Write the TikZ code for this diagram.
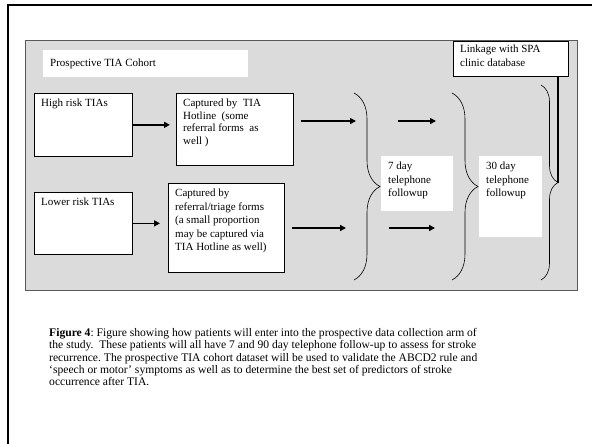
\documentclass[tikz,border=0pt]{standalone}
\usepackage{fontspec}
\setmainfont{Liberation Serif}
\usetikzlibrary{arrows.meta,decorations.pathreplacing}

\begin{document}
\frenchspacing
\begin{tikzpicture}[x=1pt,y=-1pt,
    box/.style={draw, line width=0.7pt, fill=white, anchor=north west, inner sep=0pt},
    plain/.style={fill=white, anchor=north west, inner sep=0pt},
    boxtext/.style={anchor=north west, align=left, inner xsep=7pt, inner ysep=6pt,
        font=\fontsize{11}{13.5}\selectfont},
    arr/.style={line width=1.4pt, -{Triangle[length=6pt,width=6pt]}},
    brc/.style={decorate, line width=0.6pt, decoration={brace, amplitude=#1}}]

    \useasboundingbox (0,0) rectangle (592,444);

    % outer frame
    \draw[line width=2.2pt] (8,444) -- (8,5) -- (592,5);

    % grey panel
    \draw[fill=black!14, draw=black!65, line width=0.9pt] (25,40) rectangle (577,290);

    \node[plain, minimum width=205pt, minimum height=27pt,
        label={[boxtext, anchor=west]west:Prospective TIA Cohort}] (cohort) at (43,50) {};

    \node[box, minimum width=98pt, minimum height=63pt,
        label={[boxtext]north west:High risk TIAs}] (high) at (34,93) {};
    \node[box, minimum width=117pt, minimum height=72pt,
        label={[boxtext, font=\fontsize{11}{12.4}\selectfont]north west:{Captured by\ \ TIA\\Hotline\ \ (some\\referral forms\ \ as\\well )}}] (hotline) at (176,93) {};

    \node[box, minimum width=98pt, minimum height=62pt,
        label={[boxtext]north west:Lower risk TIAs}] (low) at (34,192) {};
    \node[box, minimum width=116pt, minimum height=89pt,
        label={[boxtext]north west:{Captured by\\referral/triage forms\\(a small proportion\\may be captured via\\TIA Hotline as well)}}] (referral) at (168,183) {};

    \node[plain, minimum width=72pt, minimum height=55pt,
        label={[boxtext]north west:{7 day\\telephone\\followup}}] (seven) at (381,156) {};
    \node[plain, minimum width=63pt, minimum height=81pt,
        label={[boxtext]north west:{30 day\\telephone\\followup}}] (thirty) at (479,156) {};

    \node[box, minimum width=115pt, minimum height=35pt,
        label={[boxtext, inner ysep=4pt]north west:{Linkage with SPA\\clinic database}}] (link) at (453,41) {};

    % arrows
    \draw[arr, shorten >=6pt] (high.east) -- (high.east -| hotline.west);
    \draw[arr, shorten >=8pt] (low.east) -- (low.east -| referral.west);

    \coordinate (u1) at (301,121);
    \coordinate (u2) at (356,121);
    \coordinate (u3) at (398,121);
    \coordinate (u4) at (436,121);
    \coordinate (l1) at (292,228);
    \coordinate (l2) at (346,228);
    \coordinate (l3) at (389,228);
    \coordinate (l4) at (435,228);
    \draw[arr] (u1) -- (u2);
    \draw[arr] (u3) -- (u4);
    \draw[arr] (l1) -- (l2);
    \draw[arr] (l3) -- (l4);

    % braces
    \draw[brc=26pt] (354,93) -- (354,280);
    \draw[brc=26pt] (452,93) -- (452,280);
    \draw[brc=17pt] (541,85) -- (541,280);

    \coordinate (cusp) at (558,182.5);
    \draw[line width=1.3pt] (link.south -| cusp) -- (cusp);

    % caption
    \node[anchor=north west, align=left, inner sep=0pt,
        font=\fontsize{11.6}{12.4}\selectfont] (caption) at (49,328)
        {\textbf{Figure 4}: Figure showing how patients will enter into the prospective data collection arm of\\
        the study.~ These patients will all have 7 and 90 day telephone follow-up to assess for stroke\\
        recurrence. The prospective TIA cohort dataset will be used to validate the ABCD2 rule and\\
        ‘speech or motor’ symptoms as well as to determine the best set of predictors of stroke\\
        occurrence after TIA.};

\end{tikzpicture}
\end{document}
